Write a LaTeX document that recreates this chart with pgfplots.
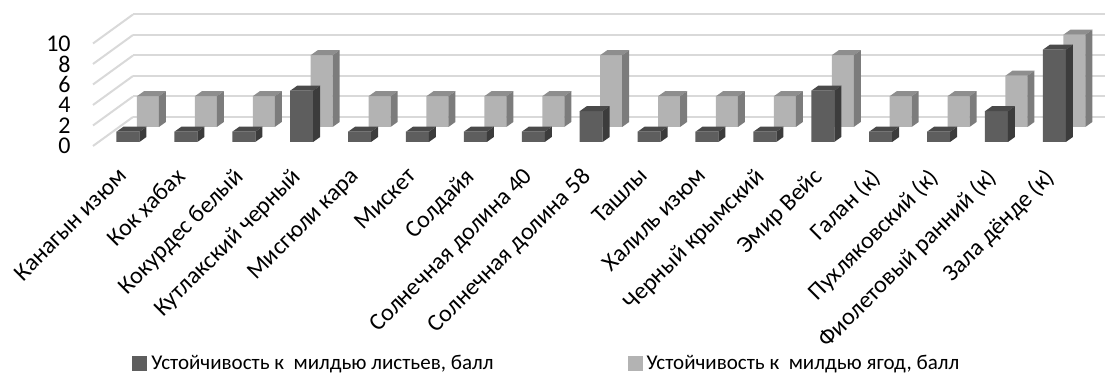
\documentclass[border=0pt]{standalone}
\usepackage{fontspec}
\setmainfont{Carlito}
\usepackage{pgfplots}
\pgfplotsset{compat=1.18}
\definecolor{dkF}{HTML}{5E5E5E}
\definecolor{dkT}{HTML}{4A4A4A}
\definecolor{dkS}{HTML}{3C3C3C}
\definecolor{ltF}{HTML}{B3B3B3}
\definecolor{ltT}{HTML}{8E8E8E}
\definecolor{ltS}{HTML}{7C7C7C}
\definecolor{gridc}{HTML}{D9D9D9}
\newdimen\bH \newdimen\bA \newdimen\bB \newdimen\bC \newdimen\bW \newdimen\bN
% 3D top and side faces of a bar, drawn as a mark at the bar's top centre
\newcommand\declbar[4]{%
\pgfdeclareplotmark{#1}{%
  \bH=\val pt \bH=5.125\bH
  \bW=#2\relax \bN=-\bW
  \bA=\bW \advance\bA by 3.5pt
  \bB=\bN \advance\bB by 3.5pt
  \bC=-\bH \advance\bC by 2.5pt
  \pgfpathmoveto{\pgfqpoint{\bN}{0pt}}%
  \pgfpathlineto{\pgfqpoint{\bW}{0pt}}%
  \pgfpathlineto{\pgfqpoint{\bA}{2.5pt}}%
  \pgfpathlineto{\pgfqpoint{\bB}{2.5pt}}%
  \pgfpathclose
  \pgfsetfillcolor{#3}\pgfusepathqfill
  \pgfpathmoveto{\pgfqpoint{\bW}{0pt}}%
  \pgfpathlineto{\pgfqpoint{\bW}{-\bH}}%
  \pgfpathlineto{\pgfqpoint{\bA}{\bC}}%
  \pgfpathlineto{\pgfqpoint{\bA}{2.5pt}}%
  \pgfpathclose
  \pgfsetfillcolor{#4}\pgfusepathqfill
}}
\declbar{darkbox}{5.75pt}{dkT}{dkS}
\declbar{lightbox}{5.5pt}{ltT}{ltS}
\pgfplotstableread{
x dark light
0 1 3
1 1 3
2 1 3
3 5 7
4 1 3
5 1 3
6 1 3
7 1 3
8 3 7
9 1 3
10 1 3
11 1 3
12 5 7
13 1 3
14 1 3
15 3 5
16 9 9
}\data
\begin{document}
\begin{tikzpicture}
\useasboundingbox (0,0) rectangle (553.5pt,191.5pt);
% back wall
\begin{axis}[at={(66.5pt,133pt)}, anchor=south west, scale only axis,
  width=486pt, height=51.25pt, xmin=0, xmax=1, ymin=0, ymax=10,
  ytick={0,2,...,10}, yticklabel=\empty, xtick=\empty, ymajorgrids,
  axis line style={draw=none}, major tick length=0pt,
  major grid style={draw=gridc, line width=1pt}]
\end{axis}
% side wall diagonals
\foreach \k in {0,...,5}{
  \draw[gridc, line width=1pt] (46.5pt,{(118.5+10.25*\k)*1pt}) -- (66.5pt,{(133+10.25*\k)*1pt});
}
% light (back) series
\begin{axis}[at={(59.5pt,128pt)}, anchor=south west, scale only axis,
  width=492.15pt, height=51.25pt, xmin=-0.5, xmax=16.5, ymin=0, ymax=10,
  axis line style={draw=none}, xtick=\empty, ytick=\empty, clip=false]
\addplot[ybar, bar width=11pt, bar shift=0pt, fill=ltF, draw=none] table[x=x, y=light] {\data};
\addplot[only marks, scatter, mark=lightbox,
  visualization depends on={\thisrow{light} \as \val}] table[x=x, y=light] {\data};
\end{axis}
% dark (front) series
\begin{axis}[at={(49.5pt,120.5pt)}, anchor=south west, scale only axis,
  width=492.15pt, height=51.25pt, xmin=-0.5, xmax=16.5, ymin=0, ymax=10,
  axis line style={draw=none}, clip=false, major tick length=0pt,
  ytick={0,2,...,10},
  /pgf/number format/assume math mode=true,
  yticklabel style={font=\fontsize{12}{12}\selectfont, anchor=east, inner sep=0pt, xshift=-14pt, yshift=-2pt},
  xtick={0,...,16},
  xticklabels={Канагын изюм, Кок хабах, Кокурдес белый, Кутлакский черный, Мисгюли кара, Мискет, Солдайя, Солнечная долина 40, Солнечная долина 58, Ташлы, Халиль изюм, Черный крымский, Эмир Вейс, Галан (к), Пухляковский (к), Фиолетовый ранний (к), Зала дёнде (к)},
  xticklabel style={font=\fontsize{12}{12}\selectfont, xshift=-5.5pt, yshift=-12pt, rotate=45, anchor=north east, inner sep=0pt},
  legend image code/.code={\fill[#1, draw=none] (0pt,-3.75pt) rectangle (7.5pt,3.75pt);},
  legend style={at={(axis description cs:0.0335,-2.16)}, anchor=west, legend columns=2,
    draw=none, fill=none, inner sep=0pt, font=\fontsize{10.5}{12}\selectfont,
    /tikz/every even column/.append style={column sep=65pt}}]
\addplot[ybar, bar width=11.5pt, bar shift=0pt, fill=dkF, draw=none, forget plot] table[x=x, y=dark] {\data};
\addplot[only marks, scatter, mark=darkbox, forget plot,
  visualization depends on={\thisrow{dark} \as \val}] table[x=x, y=dark] {\data};
\addlegendimage{fill=dkF}
\addlegendentry{Устойчивость к\ \ милдью листьев, балл}
\addlegendimage{fill=ltF}
\addlegendentry{Устойчивость к\ \ милдью ягод, балл}
\end{axis}
\end{tikzpicture}
\end{document}
